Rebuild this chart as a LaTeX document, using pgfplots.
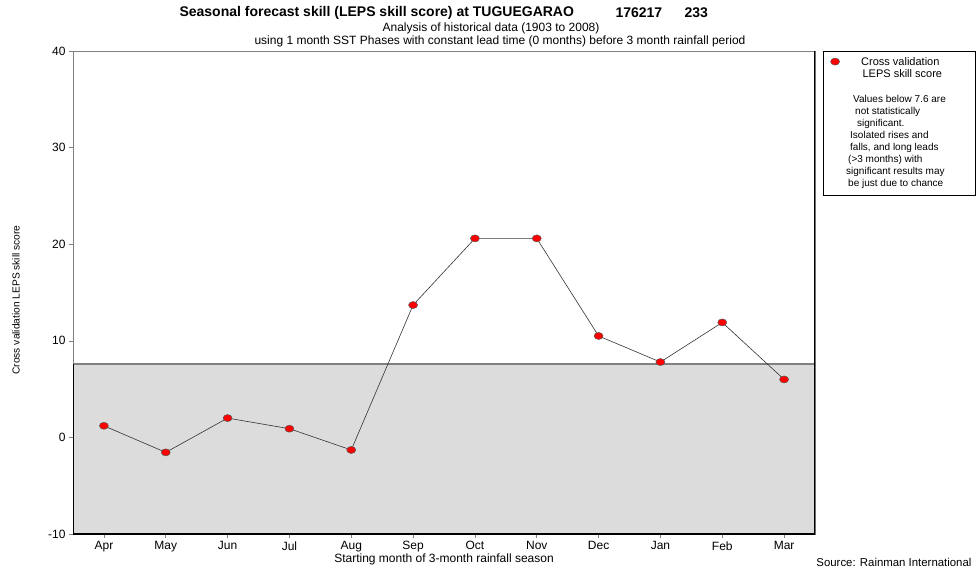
\documentclass[border=0pt]{standalone}
\usepackage{fontspec}
\setmainfont{Liberation Sans}
\usepackage{pgfplots}
\pgfplotsset{compat=1.18}

\definecolor{shade}{RGB}{220,220,220}
\definecolor{frame}{RGB}{128,128,128}

\begin{document}
\begin{tikzpicture}[x=1pt,y=1pt]
\useasboundingbox (0,0) rectangle (976,568);

% titles
\node[font=\bfseries\fontsize{14}{16}\selectfont, anchor=west] at (176,555) {Seasonal forecast skill (LEPS skill score) at TUGUEGARAO};
\node[font=\bfseries\fontsize{14}{16}\selectfont, anchor=west] at (612,555) {176217};
\node[font=\bfseries\fontsize{14}{16}\selectfont, anchor=west] at (681,555) {233};
\node[font=\fontsize{12}{14}\selectfont] at (491,540) {Analysis of historical data (1903 to 2008)};
\node[font=\fontsize{12}{14}\selectfont] at (500,527) {using 1 month SST Phases with constant lead time (0 months) before 3 month rainfall period};
\node[font=\fontsize{11.4}{13}\selectfont, anchor=east] at (975,6) {Source: Rainman International};

% legend frame and note
\draw[black, line width=0.8pt] (823,373) rectangle (975,517);
\node[font=\fontsize{10}{12}\selectfont, align=left, anchor=north west, inner sep=0pt] at (846,473)
{\hspace{7pt}Values below 7.6 are\\\hspace{9pt}not statistically\\\hspace{11pt}significant.\\\hspace{4pt}Isolated rises and\\\hspace{4pt}falls, and long leads\\\hspace{2pt}(>3 months) with\\significant results may\\\hspace{2pt}be just due to chance};

\begin{axis}[
  at={(73pt,34pt)}, anchor=south west,
  width=742pt, height=483pt, scale only axis,
  xmin=-0.5, xmax=11.5, ymin=-10, ymax=40,
  xtick={0,...,11},
  xticklabels={Apr,May,Jun,Jul,Aug,Sep,Oct,Nov,Dec,Jan,Feb,Mar},
  ytick={-10,0,...,40},
  tick align=outside, tick pos=left,
  major tick length=4pt,
  tick style={frame, line width=0.6pt},
  axis line style={frame, line width=1pt},
  ticklabel style={font=\fontsize{12}{14}\selectfont},
  /pgf/number format/assume math mode=true,
  xlabel={Starting month of 3-month rainfall season},
  ylabel={Cross validation LEPS skill score},
  every axis x label/.style={at={(rel axis cs:0.5,0)}, anchor=center, yshift=-25pt,
    font=\fontsize{12}{14}\selectfont},
  every axis y label/.style={at={(axis description cs:-0.0768,0.4845)}, anchor=center, rotate=90,
    font=\fontsize{10.2}{12}\selectfont},
  legend style={at={(rel axis cs:1.018,0.997)}, anchor=north west, draw=none, fill=none,
    font=\fontsize{11}{12}\selectfont, inner sep=2pt},
  legend cell align=left,
]
% non-significant band (below 7.6)
\addplot[fill=shade, draw=none, forget plot] coordinates {(-0.5,-10) (11.5,-10) (11.5,7.6) (-0.5,7.6)} -- cycle;
\addplot[frame, line width=1.2pt, forget plot] coordinates {(-0.5,7.6) (11.5,7.6)};

\addplot[black!80, line width=0.6pt, forget plot]
coordinates {
(0,1.2) (1,-1.55) (2,2.0) (3,0.9) (4,-1.3) (5,13.7)
(6,20.6) (7,20.6) (8,10.5) (9,7.8) (10,11.9) (11,6.0)
};
\addplot[only marks, mark=*, mark size=4.3pt,
  mark options={fill=red, draw=gray!70!black, line width=0.5pt, yscale=0.82, xscale=1.05}]
coordinates {
(0,1.2) (1,-1.55) (2,2.0) (3,0.9) (4,-1.3) (5,13.7)
(6,20.6) (7,20.6) (8,10.5) (9,7.8) (10,11.9) (11,6.0)
};
\addlegendentry{\hspace{17pt}\begin{tabular}[t]{@{}c@{}}Cross validation\\\hspace{4pt}LEPS skill score\end{tabular}}

\draw[black, line width=1.4pt] (rel axis cs:0,0) -- (rel axis cs:1,0) -- (rel axis cs:1,1);
\draw[black, line width=1.4pt] (rel axis cs:0,0) -- (axis cs:-0.5,7.6);
\end{axis}
\end{tikzpicture}
\end{document}
